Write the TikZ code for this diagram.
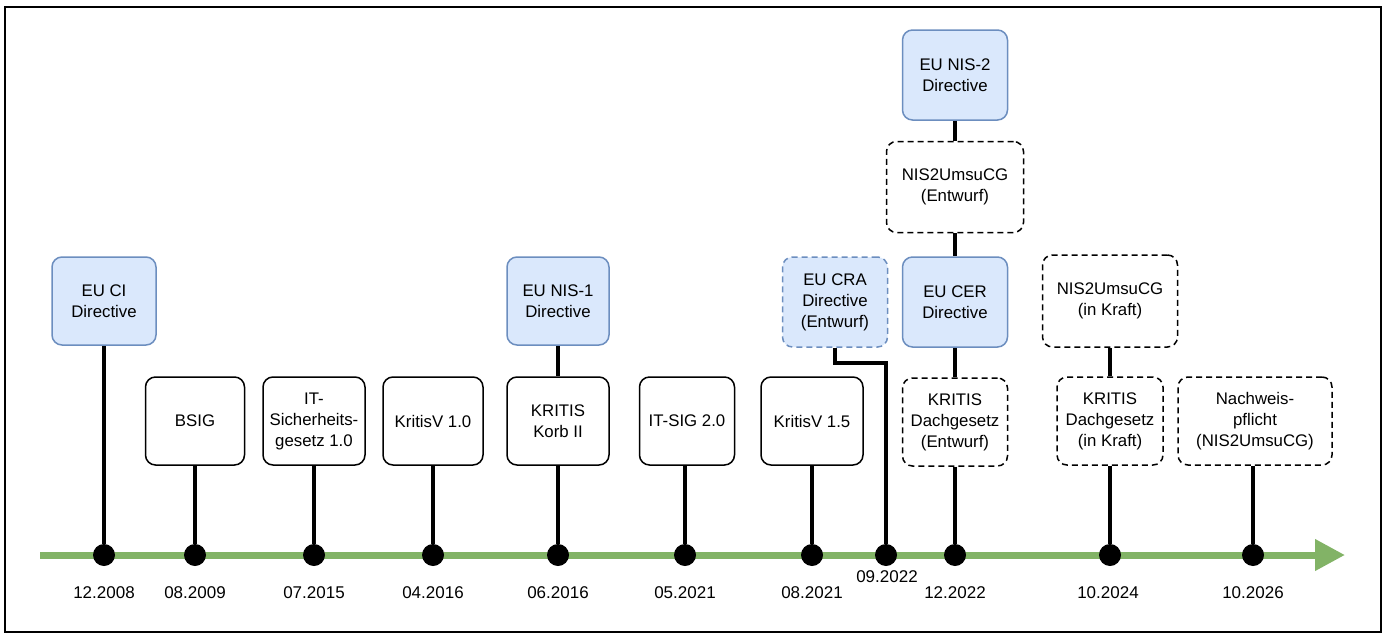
\documentclass[tikz,border=0pt]{standalone}
\usepackage{fontspec}
\setmainfont{Liberation Sans}
\usetikzlibrary{arrows.meta, positioning}
\definecolor{eufill}{HTML}{DAE8FC}
\definecolor{euline}{HTML}{6C8EBF}
\definecolor{timegreen}{HTML}{82B366}

\begin{document}
\begin{tikzpicture}[x=0.5pt, y=-0.5pt,
    box/.style={draw, rounded corners=5pt, line width=0.75pt, align=center, minimum width=51pt, minimum height=44pt, inner sep=1pt, font=\fontsize{8.4}{10.5}\selectfont},
    eubox/.style={box, draw=euline, fill=eufill},
    draftbox/.style={box, dash pattern=on 3pt off 2pt},
    dot/.style={circle, fill=black, minimum size=11pt, inner sep=0pt},
    datum/.style={font=\fontsize{8.5}{10}\selectfont},
    link/.style={line width=2pt}]
    \useasboundingbox (0,0) rectangle (1387,637);
    \draw[line width=0.8pt] (5,7) rectangle (1381,632);

    % timeline
    \coordinate (tstart) at (40,555);
    \coordinate (tend) at (1345,555);
    \draw[timegreen, line width=3.5pt, -{Triangle[length=15pt, width=15pt]}] (tstart) -- (tend);

    % boxes
    \node[eubox, minimum width=52pt] (cidir) at (104,301) {EU CI\\Directive};
    \node[box, minimum width=49.5pt] (bsig) at (195,421) {BSIG};
    \node[box] (itsig1) at (314,421) {IT-\\Sicherheits-\\gesetz 1.0};
    \node[box, minimum width=50pt] (kritisv1) at (433,421) {KritisV 1.0};
    \node[eubox] (nis1) at (558,301) {EU NIS-1\\Directive};
    \node[box] (korb2) at (558,421) {KRITIS\\Korb II};
    \node[box, minimum width=47.5pt] (itsig2) at (687,421) {IT-SIG 2.0};
    \node[box] (kritisv15) at (812,421) {KritisV 1.5};
    \node[eubox, dash pattern=on 3pt off 2pt, minimum width=52.5pt, minimum height=45pt] (cra) at (835,302) {EU CRA\\Directive\\(Entwurf)};
    \node[eubox, minimum width=52.5pt, minimum height=45pt] (nis2) at (955,75) {EU NIS-2\\Directive};
    \node[draftbox, minimum width=68.5pt, minimum height=45.5pt] (umsuentw) at (955,187) {NIS2UmsuCG\\(Entwurf)};
    \node[eubox, minimum width=52.5pt, minimum height=45pt] (cer) at (955,302) {EU CER\\Directive};
    \node[draftbox, minimum width=52.5pt] (dachentw) at (955,422) {KRITIS\\Dachgesetz\\(Entwurf)};
    \node[draftbox, minimum width=67.5pt, minimum height=46pt] (umsukraft) at (1110,301) {NIS2UmsuCG\\(in Kraft)};
    \node[draftbox, minimum width=53pt] (dachkraft) at (1110,421) {KRITIS\\Dachgesetz\\(in Kraft)};
    \node[draftbox, minimum width=77pt] (nachweis) at (1255,421) {Nachweis-\\pflicht\\(NIS2UmsuCG)};

    % dates
    \node[dot] (d2008) at (104,555) {};
    \node[dot] (d2009) at (195,555) {};
    \node[dot] (d2015) at (314,555) {};
    \node[dot] (d2016a) at (433,555) {};
    \node[dot] (d2016b) at (558,555) {};
    \node[dot] (d2021a) at (685,555) {};
    \node[dot] (d2021b) at (812,555) {};
    \node[dot] (d2022a) at (886,555) {};
    \node[dot] (d2022b) at (955,555) {};
    \node[dot] (d2024) at (1110,555) {};
    \node[dot] (d2026) at (1253,555) {};

    \node[datum] (l2008) at (104,593) {12.2008};
    \node[datum] (l2009) at (195,593) {08.2009};
    \node[datum] (l2015) at (314,593) {07.2015};
    \node[datum] (l2016a) at (433,593) {04.2016};
    \node[datum] (l2016b) at (558,593) {06.2016};
    \node[datum] (l2021a) at (685,593) {05.2021};
    \node[datum] (l2021b) at (812,593) {08.2021};
    \node[datum] (l2022a) at (887,577) {09.2022};
    \node[datum] (l2022b) at (955,593) {12.2022};
    \node[datum] (l2024) at (1108,593) {10.2024};
    \node[datum] (l2026) at (1253,593) {10.2026};

    % connectors
    \draw[link] (cidir) -- (d2008);
    \draw[link] (bsig) -- (d2009);
    \draw[link] (itsig1) -- (d2015);
    \draw[link] (kritisv1) -- (d2016a);
    \draw[link] (nis1) -- (korb2);
    \draw[link] (korb2) -- (d2016b);
    \draw[link] (itsig2.south -| d2021a) -- (d2021a);
    \draw[link] (kritisv15) -- (d2021b);
    \draw[link] (cra.south) -- ++(0,15) -| (d2022a);
    \draw[link] (nis2) -- (umsuentw);
    \draw[link] (umsuentw) -- (cer);
    \draw[link] (cer) -- (dachentw);
    \draw[link] (dachentw) -- (d2022b);
    \draw[link] (umsukraft) -- (dachkraft);
    \draw[link] (dachkraft) -- (d2024);
    \draw[link] (nachweis.south -| d2026) -- (d2026);
\end{tikzpicture}
\end{document}
